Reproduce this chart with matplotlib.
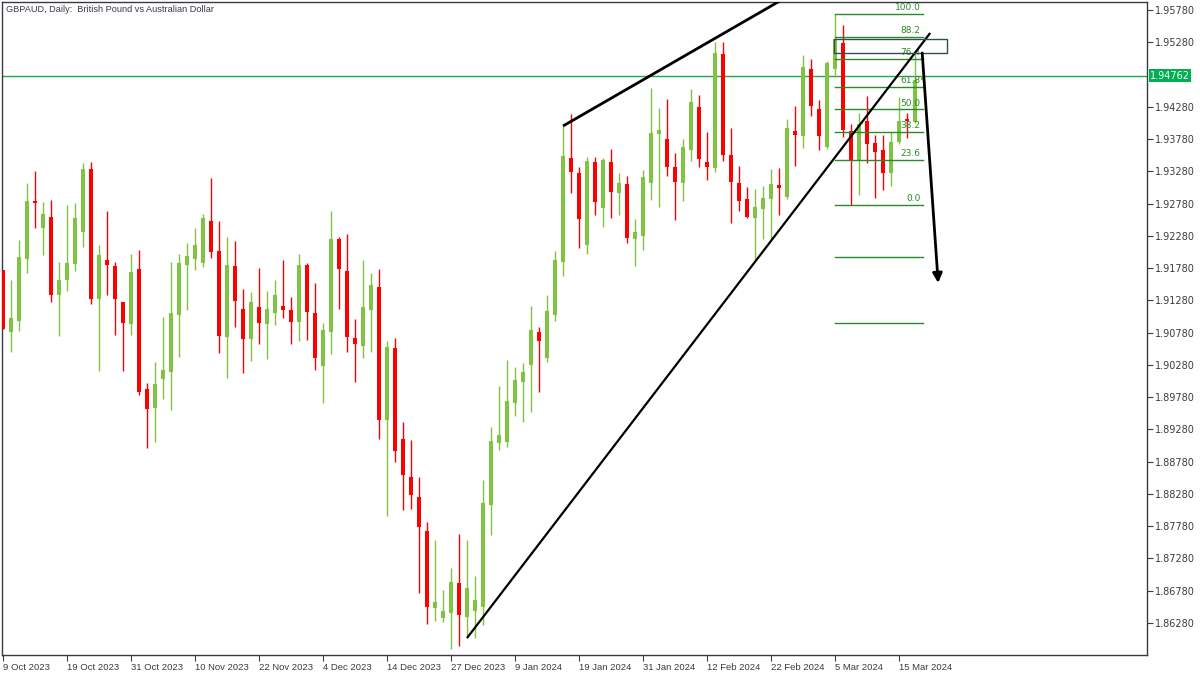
import matplotlib
matplotlib.use("Agg")
import matplotlib.pyplot as plt
from matplotlib.patches import Rectangle

# ---------------- data ----------------
opens = [1.91750, 1.90789, 1.90960, 1.91921, 1.92820, 1.92401, 1.92572, 1.91363, 1.91595, 1.91843,
         1.92339, 1.93316, 1.91301, 1.91905, 1.91812, 1.91254, 1.90913, 1.91766, 1.89906, 1.89611,
         1.90061, 1.90169, 1.91053, 1.91828, 1.91921, 1.91859, 1.92510, 1.92045, 1.90712, 1.91812,
         1.91146, 1.90681, 1.91177, 1.90913, 1.91084, 1.91192, 1.91130, 1.90944, 1.91828, 1.91084,
         1.90262, 1.90789, 1.92231, 1.91735, 1.90696, 1.90572, 1.91130, 1.91487, 1.89425, 1.90541,
         1.89131, 1.88542, 1.88232, 1.87705, 1.86511, 1.86356, 1.86434, 1.86899, 1.86372, 1.86465,
         1.86527, 1.88108, 1.89069, 1.89084, 1.89689, 1.90014, 1.90278, 1.90789, 1.90386, 1.91053,
         1.91874, 1.93486, 1.93254, 1.92138, 1.93424, 1.92711, 1.93424, 1.92944, 1.93083, 1.92231,
         1.92277, 1.93099, 1.93858, 1.93781, 1.93347, 1.93099, 1.93610, 1.94277, 1.93424, 1.93331,
         1.95098, 1.93533, 1.93099, 1.92851, 1.92556, 1.92696, 1.92851, 1.93068, 1.92882, 1.93905,
         1.93827, 1.94866, 1.94246, 1.93657, 1.94866, 1.95269, 1.93905, 1.93455, 1.94060, 1.93719,
         1.93610, 1.93254, 1.93734, 1.94091, 1.94044, 1.94695]
highs = [1.91750, 1.91595, 1.92215, 1.93099, 1.93285, 1.92804, 1.92835, 1.91874, 1.92758, 1.92789,
         1.93409, 1.93424, 1.92138, 1.92665, 1.91874, 1.91254, 1.91998, 1.92060, 1.89999, 1.90324,
         1.91022, 1.91874, 1.91998, 1.92169, 1.92401, 1.92618, 1.93176, 1.92510, 1.92262, 1.92200,
         1.91456, 1.91409, 1.91781, 1.91425, 1.91595, 1.91905, 1.91332, 1.91998, 1.91859, 1.91549,
         1.90929, 1.92665, 1.92262, 1.92308, 1.90991, 1.91905, 1.91704, 1.91766, 1.90650, 1.90696,
         1.89394, 1.89115, 1.88542, 1.87844, 1.87565, 1.86790, 1.87131, 1.87658, 1.87565, 1.87007,
         1.88495, 1.89317, 1.89952, 1.90355, 1.90247, 1.90309, 1.91192, 1.90867, 1.91363, 1.92045,
         1.93982, 1.94168, 1.93347, 1.93502, 1.93502, 1.93486, 1.93626, 1.93254, 1.93207, 1.92541,
         1.93300, 1.94571, 1.94261, 1.94401, 1.93564, 1.93781, 1.94556, 1.94463, 1.93889, 1.95284,
         1.95284, 1.93951, 1.93362, 1.93037, 1.93006, 1.93052, 1.93316, 1.93331, 1.94091, 1.94292,
         1.95083, 1.95021, 1.94385, 1.94990, 1.95718, 1.95548, 1.94013, 1.94184, 1.94447, 1.93843,
         1.93843, 1.93889, 1.94432, 1.94184, 1.95114, 1.94788]
lows = [1.90836, 1.90479, 1.90805, 1.91704, 1.92401, 1.91983, 1.91254, 1.90727, 1.91425, 1.91735,
        1.92107, 1.91223, 1.90185, 1.91363, 1.90743, 1.90185, 1.90743, 1.89813, 1.88991, 1.89084,
        1.89751, 1.89580, 1.90402, 1.91130, 1.91750, 1.91797, 1.91936, 1.90464, 1.90076, 1.90867,
        1.90154, 1.90340, 1.90603, 1.90371, 1.90898, 1.91006, 1.90603, 1.90650, 1.90665, 1.90200,
        1.89689, 1.90448, 1.91146, 1.90479, 1.90014, 1.90386, 1.90479, 1.89131, 1.87937, 1.88774,
        1.88030, 1.88046, 1.86744, 1.86263, 1.86310, 1.86294, 1.85876, 1.85922, 1.86046, 1.86046,
        1.86248, 1.87643, 1.88960, 1.89007, 1.89487, 1.89394, 1.89549, 1.89859, 1.90324, 1.90960,
        1.91657, 1.92944, 1.92091, 1.91998, 1.92603, 1.92417, 1.92556, 1.92603, 1.92169, 1.91812,
        1.92060, 1.92835, 1.92727, 1.93207, 1.92525, 1.92820, 1.93440, 1.93347, 1.93145, 1.93269,
        1.93440, 1.92479, 1.92665, 1.92556, 1.91921, 1.92231, 1.92231, 1.92603, 1.92851, 1.93362,
        1.93641, 1.94137, 1.93610, 1.93626, 1.94742, 1.93812, 1.92758, 1.92913, 1.93409, 1.92866,
        1.92990, 1.93052, 1.93703, 1.93796, 1.94029, 1.94664]
closes = [1.90836, 1.91006, 1.91952, 1.92820, 1.92789, 1.92618, 1.91363, 1.91595, 1.91859, 1.92556,
          1.93316, 1.91301, 1.91983, 1.91828, 1.91301, 1.90929, 1.91719, 1.89859, 1.89596, 1.89983,
          1.90200, 1.91084, 1.91859, 1.91967, 1.92138, 1.92556, 1.92029, 1.90727, 1.91828, 1.91270,
          1.90681, 1.91254, 1.90929, 1.91146, 1.91363, 1.91130, 1.90944, 1.91828, 1.91099, 1.90386,
          1.90820, 1.92231, 1.91766, 1.90712, 1.90603, 1.91177, 1.91518, 1.89425, 1.90557, 1.88944,
          1.88573, 1.88263, 1.87767, 1.86527, 1.86604, 1.86465, 1.86914, 1.86403, 1.86821, 1.86635,
          1.88139, 1.89100, 1.89193, 1.89720, 1.90045, 1.90169, 1.90820, 1.90650, 1.91115, 1.91905,
          1.93517, 1.93269, 1.92541, 1.93440, 1.92804, 1.93455, 1.92959, 1.93099, 1.92246, 1.92339,
          1.93192, 1.93874, 1.93920, 1.93347, 1.93114, 1.93657, 1.94354, 1.93471, 1.93347, 1.95114,
          1.93533, 1.93114, 1.92820, 1.92572, 1.92727, 1.92866, 1.93083, 1.93021, 1.93951, 1.93843,
          1.94897, 1.94292, 1.93827, 1.94959, 1.95331, 1.93920, 1.93455, 1.94013, 1.93703, 1.93579,
          1.93254, 1.93734, 1.94060, 1.94060, 1.94695, 1.94762]

date_labels = ["9 Oct 2023", "19 Oct 2023", "31 Oct 2023", "10 Nov 2023", "22 Nov 2023",
               "4 Dec 2023", "14 Dec 2023", "27 Dec 2023", "9 Jan 2024", "19 Jan 2024",
               "31 Jan 2024", "12 Feb 2024", "22 Feb 2024", "5 Mar 2024", "15 Mar 2024"]
date_label_bars = [0, 8, 16, 24, 32, 40, 48, 56, 64, 72, 80, 88, 96, 104, 112]

price_ticks = [1.95780, 1.95280, 1.94280, 1.93780, 1.93280, 1.92780, 1.92280, 1.91780,
               1.91280, 1.90780, 1.90280, 1.89780, 1.89280, 1.88780, 1.88280, 1.87780,
               1.87280, 1.86780, 1.86280]
current_price = 1.94762

# Fibonacci retracement (100 -> swing high, 0 -> swing low)
fib_high = 1.95718
fib_low = 1.92758
fib_ratios = [0.0, 0.236, 0.382, 0.5, 0.618, 0.764, 0.882, 1.0, -0.272, -0.618]
fib_labels = ["0.0", "23.6", "38.2", "50.0", "61.8", "76.4", "88.2", "100.0", "", ""]
fib_x = [104.0, 115.0]

# drawn objects (bar index, price)
upper_line = [(70.0, 1.93982), (98.5, 1.96020)]
lower_line = [(58.0, 1.86046), (115.9, 1.95424)]
arrow_start = (114.9, 1.95114)
arrow_end = (116.9, 1.91549)
box_x = [103.9, 118.0]
box_y = [1.95114, 1.95331]

# ---------------- drawing ----------------
GREEN = "#80c342"
RED = "#ff0000"
FIBC = "#2a8a2a"
TEXTC = "#3a3a44"
FONT = ["Liberation Sans", "DejaVu Sans"]

fig = plt.figure(figsize=(12, 6.75), dpi=100)
fig.patch.set_facecolor("white")
ax = fig.add_axes([2 / 1200, 20 / 675, 1145 / 1200, 653 / 675])
ax.set_facecolor("white")
ax.set_xlim(-0.125, 143.0)
ax.set_ylim(1.85783, 1.95904)

n = len(opens)
xs = list(range(n))
for i in xs:
    o, h, l, c = opens[i], highs[i], lows[i], closes[i]
    col = GREEN if c >= o else RED
    ax.vlines(i, l, h, color=col, lw=1.0, zorder=2)
    bottom = min(o, c)
    height = max(abs(c - o), 0.00016)
    ax.bar(i, height, bottom=bottom, width=0.62, color=col, linewidth=0, zorder=3)

# current price line
ax.axhline(current_price, color="#1ea84a", lw=1.0, zorder=1)

# fibonacci
rng = fib_high - fib_low
for r, lab in zip(fib_ratios, fib_labels):
    lvl = fib_low + r * rng
    ax.plot(fib_x, [lvl, lvl], color=FIBC, lw=1.0, zorder=4)
    if lab:
        ax.text(fib_x[1] - 0.3, lvl + 0.0003, lab, color=FIBC, fontsize=6.5,
                ha="right", va="bottom", zorder=5)

# trend lines
ax.plot([p[0] for p in upper_line], [p[1] for p in upper_line], color="black", lw=2.0,
        zorder=6, solid_capstyle="butt")
ax.plot([p[0] for p in lower_line], [p[1] for p in lower_line], color="black", lw=1.6,
        zorder=6, solid_capstyle="butt")

# rectangle
ax.add_patch(Rectangle((box_x[0], box_y[0]), box_x[1] - box_x[0], box_y[1] - box_y[0],
                       fill=False, edgecolor="#2f4f4f", lw=1.0, zorder=6))

# arrow
ax.annotate("", xy=arrow_end, xytext=arrow_start,
            arrowprops=dict(arrowstyle="-|>", color="black", lw=2.0, mutation_scale=14,
                            shrinkA=0, shrinkB=0), zorder=7)

# axes styling
for sp in ax.spines.values():
    sp.set_color(TEXTC)
    sp.set_linewidth(1.0)

ax.yaxis.tick_right()
ax.set_yticks(price_ticks)
ax.set_yticklabels([f"{v:.5f}" for v in price_ticks])
ax.tick_params(axis="y", direction="out", length=4, width=0.8, colors=TEXTC,
               labelsize=7, pad=2)

ax.set_xticks(date_label_bars)
ax.set_xticklabels(date_labels)
for t in ax.get_xticklabels():
    t.set_horizontalalignment("left")
    t.set_fontfamily(FONT)
    t.set_fontsize(6.8)
ax.tick_params(axis="x", direction="out", length=4, width=0.8, colors=TEXTC, pad=2)

# current price tag
ax.text(1.0 + 3 / 1145, current_price, f"{current_price:.5f}", transform=ax.get_yaxis_transform(),
        fontsize=7, color="white", ha="left", va="center", zorder=10,
        bbox=dict(boxstyle="square,pad=0.15", facecolor="#00b050", edgecolor="none"),
        clip_on=False)

# title
fig.text(6 / 1200, 1 - 9 / 675, "GBPAUD, Daily:  British Pound vs Australian Dollar",
         fontsize=6.6, color=TEXTC, ha="left", va="center", family=FONT)

fig.savefig("out.png", dpi=100)
